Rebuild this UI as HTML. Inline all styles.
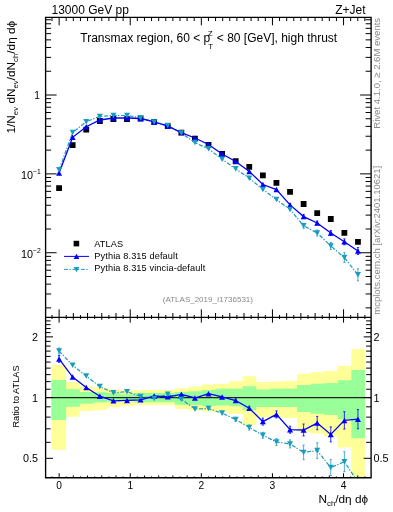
<!DOCTYPE html>
<html><head><meta charset="utf-8"><style>
html,body{margin:0;padding:0;background:#fff;overflow:hidden;}
svg{display:block;will-change:transform;}
text{font-family:"Liberation Sans",sans-serif;}
</style></head><body>
<svg width="393" height="512" viewBox="0 0 393 512">
<rect width="393" height="512" fill="#fff"/>
<path d="M51.30,365.00H66.18V381.90H79.76V386.40H93.34V387.60H106.92V389.40H120.50V390.50H134.08V390.00H147.66V390.00H161.24V390.00H174.82V388.20H188.40V386.40H201.98V384.50H215.56V383.80H229.14V381.30H242.72V376.30H256.30V381.90H269.88V381.50H283.46V381.00H297.04V373.75H310.62V372.25H324.20V371.10H337.78V366.10H351.36V349.00H364.90V477.75H351.36V447.60H337.78V436.40H324.20V433.75H310.62V432.00H297.04V418.10H283.46V417.50H269.88V417.20H256.30V425.30H242.72V413.75H229.14V412.50H215.56V411.50H201.98V410.20H188.40V409.00H174.82V405.30H161.24V405.30H147.66V405.30H134.08V405.90H120.50V407.20H106.92V409.90H93.34V411.00H79.76V416.70H66.18V449.70H51.30Z" fill="#ffff99"/>
<path d="M51.30,380.00H66.18V389.20H79.76V391.90H93.34V392.20H106.92V393.10H120.50V394.30H134.08V393.10H147.66V393.10H161.24V393.10H174.82V391.90H188.40V391.30H201.98V390.00H215.56V388.80H229.14V388.80H242.72V386.30H256.30V389.40H269.88V388.80H283.46V388.50H297.04V385.00H310.62V383.75H324.20V383.00H337.78V380.25H351.36V369.90H364.90V438.25H351.36V418.90H337.78V415.00H324.20V413.75H310.62V411.90H297.04V406.90H283.46V406.90H269.88V406.90H256.30V410.30H242.72V406.25H229.14V405.60H215.56V405.90H201.98V405.30H188.40V404.70H174.82V402.30H161.24V402.30H147.66V402.30H134.08V401.00H120.50V401.80H106.92V402.50H93.34V403.70H79.76V406.80H66.18V419.90H51.30Z" fill="#99ff99"/>
<line x1="45.6" y1="397.6" x2="371.1" y2="397.6" stroke="#222" stroke-width="1.1"/>
<path d="M45.6,307.87h5.5M371.1,307.87h-5.5M45.6,293.98h5.5M371.1,293.98h-5.5M45.6,284.13h5.5M371.1,284.13h-5.5M45.6,276.48h5.5M371.1,276.48h-5.5M45.6,270.24h5.5M371.1,270.24h-5.5M45.6,264.96h5.5M371.1,264.96h-5.5M45.6,260.38h5.5M371.1,260.38h-5.5M45.6,256.35h5.5M371.1,256.35h-5.5M45.6,252.74h11M371.1,252.74h-11M45.6,229.00h5.5M371.1,229.00h-5.5M45.6,215.11h5.5M371.1,215.11h-5.5M45.6,205.26h5.5M371.1,205.26h-5.5M45.6,197.61h5.5M371.1,197.61h-5.5M45.6,191.37h5.5M371.1,191.37h-5.5M45.6,186.09h5.5M371.1,186.09h-5.5M45.6,181.51h5.5M371.1,181.51h-5.5M45.6,177.48h5.5M371.1,177.48h-5.5M45.6,173.87h11M371.1,173.87h-11M45.6,150.13h5.5M371.1,150.13h-5.5M45.6,136.24h5.5M371.1,136.24h-5.5M45.6,126.39h5.5M371.1,126.39h-5.5M45.6,118.74h5.5M371.1,118.74h-5.5M45.6,112.50h5.5M371.1,112.50h-5.5M45.6,107.22h5.5M371.1,107.22h-5.5M45.6,102.64h5.5M371.1,102.64h-5.5M45.6,98.61h5.5M371.1,98.61h-5.5M45.6,95.00h11M371.1,95.00h-11M45.6,71.26h5.5M371.1,71.26h-5.5M45.6,57.37h5.5M371.1,57.37h-5.5M45.6,47.52h5.5M371.1,47.52h-5.5M45.6,39.87h5.5M371.1,39.87h-5.5M45.6,33.63h5.5M371.1,33.63h-5.5M45.6,28.35h5.5M371.1,28.35h-5.5M45.6,23.77h5.5M371.1,23.77h-5.5M45.6,19.74h5.5M371.1,19.74h-5.5M45.6,458.31h7.4M371.1,458.31h-7.4M45.6,442.34h5M371.1,442.34h-5M45.6,428.83h5M371.1,428.83h-5M45.6,417.14h5M371.1,417.14h-5M45.6,406.82h5M371.1,406.82h-5M45.6,397.59h7.4M371.1,397.59h-7.4M45.6,389.24h5M371.1,389.24h-5M45.6,381.62h5M371.1,381.62h-5M45.6,374.61h5M371.1,374.61h-5M45.6,368.12h5M371.1,368.12h-5M45.6,362.07h5M371.1,362.07h-5M45.6,356.42h5M371.1,356.42h-5M45.6,351.11h5M371.1,351.11h-5M45.6,346.10h5M371.1,346.10h-5M45.6,341.37h5M371.1,341.37h-5M45.6,336.87h7.4M371.1,336.87h-7.4M45.6,332.60h5M371.1,332.60h-5M45.6,328.52h5M371.1,328.52h-5M45.6,324.63h5M371.1,324.63h-5M45.6,320.90h5M371.1,320.90h-5M52.00,17.3v3.8M52.00,317.3v-2.3M52.00,317.3v1.7M52.00,477.75v-1.3M59.11,17.3v8M59.11,317.3v-8M59.11,317.3v5.3M59.11,477.75v-4.5M66.22,17.3v3.8M66.22,317.3v-2.3M66.22,317.3v1.7M66.22,477.75v-1.3M73.33,17.3v3.8M73.33,317.3v-4.3M73.33,317.3v2.5M73.33,477.75v-2.3M80.44,17.3v3.8M80.44,317.3v-2.3M80.44,317.3v1.7M80.44,477.75v-1.3M87.55,17.3v3.8M87.55,317.3v-4.3M87.55,317.3v2.5M87.55,477.75v-2.3M94.66,17.3v3.8M94.66,317.3v-2.3M94.66,317.3v1.7M94.66,477.75v-1.3M101.78,17.3v3.8M101.78,317.3v-4.3M101.78,317.3v2.5M101.78,477.75v-2.3M108.89,17.3v3.8M108.89,317.3v-2.3M108.89,317.3v1.7M108.89,477.75v-1.3M116.00,17.3v3.8M116.00,317.3v-4.3M116.00,317.3v2.5M116.00,477.75v-2.3M123.11,17.3v3.8M123.11,317.3v-2.3M123.11,317.3v1.7M123.11,477.75v-1.3M130.22,17.3v8M130.22,317.3v-8M130.22,317.3v5.3M130.22,477.75v-4.5M137.33,17.3v3.8M137.33,317.3v-2.3M137.33,317.3v1.7M137.33,477.75v-1.3M144.44,17.3v3.8M144.44,317.3v-4.3M144.44,317.3v2.5M144.44,477.75v-2.3M151.55,17.3v3.8M151.55,317.3v-2.3M151.55,317.3v1.7M151.55,477.75v-1.3M158.66,17.3v3.8M158.66,317.3v-4.3M158.66,317.3v2.5M158.66,477.75v-2.3M165.77,17.3v3.8M165.77,317.3v-2.3M165.77,317.3v1.7M165.77,477.75v-1.3M172.89,17.3v3.8M172.89,317.3v-4.3M172.89,317.3v2.5M172.89,477.75v-2.3M180.00,17.3v3.8M180.00,317.3v-2.3M180.00,317.3v1.7M180.00,477.75v-1.3M187.11,17.3v3.8M187.11,317.3v-4.3M187.11,317.3v2.5M187.11,477.75v-2.3M194.22,17.3v3.8M194.22,317.3v-2.3M194.22,317.3v1.7M194.22,477.75v-1.3M201.33,17.3v8M201.33,317.3v-8M201.33,317.3v5.3M201.33,477.75v-4.5M208.44,17.3v3.8M208.44,317.3v-2.3M208.44,317.3v1.7M208.44,477.75v-1.3M215.55,17.3v3.8M215.55,317.3v-4.3M215.55,317.3v2.5M215.55,477.75v-2.3M222.66,17.3v3.8M222.66,317.3v-2.3M222.66,317.3v1.7M222.66,477.75v-1.3M229.77,17.3v3.8M229.77,317.3v-4.3M229.77,317.3v2.5M229.77,477.75v-2.3M236.88,17.3v3.8M236.88,317.3v-2.3M236.88,317.3v1.7M236.88,477.75v-1.3M244.00,17.3v3.8M244.00,317.3v-4.3M244.00,317.3v2.5M244.00,477.75v-2.3M251.11,17.3v3.8M251.11,317.3v-2.3M251.11,317.3v1.7M251.11,477.75v-1.3M258.22,17.3v3.8M258.22,317.3v-4.3M258.22,317.3v2.5M258.22,477.75v-2.3M265.33,17.3v3.8M265.33,317.3v-2.3M265.33,317.3v1.7M265.33,477.75v-1.3M272.44,17.3v8M272.44,317.3v-8M272.44,317.3v5.3M272.44,477.75v-4.5M279.55,17.3v3.8M279.55,317.3v-2.3M279.55,317.3v1.7M279.55,477.75v-1.3M286.66,17.3v3.8M286.66,317.3v-4.3M286.66,317.3v2.5M286.66,477.75v-2.3M293.77,17.3v3.8M293.77,317.3v-2.3M293.77,317.3v1.7M293.77,477.75v-1.3M300.88,17.3v3.8M300.88,317.3v-4.3M300.88,317.3v2.5M300.88,477.75v-2.3M308.00,17.3v3.8M308.00,317.3v-2.3M308.00,317.3v1.7M308.00,477.75v-1.3M315.11,17.3v3.8M315.11,317.3v-4.3M315.11,317.3v2.5M315.11,477.75v-2.3M322.22,17.3v3.8M322.22,317.3v-2.3M322.22,317.3v1.7M322.22,477.75v-1.3M329.33,17.3v3.8M329.33,317.3v-4.3M329.33,317.3v2.5M329.33,477.75v-2.3M336.44,17.3v3.8M336.44,317.3v-2.3M336.44,317.3v1.7M336.44,477.75v-1.3M343.55,17.3v8M343.55,317.3v-8M343.55,317.3v5.3M343.55,477.75v-4.5M350.66,17.3v3.8M350.66,317.3v-2.3M350.66,317.3v1.7M350.66,477.75v-1.3M357.77,17.3v3.8M357.77,317.3v-4.3M357.77,317.3v2.5M357.77,477.75v-2.3M364.88,17.3v3.8M364.88,317.3v-2.3M364.88,317.3v1.7M364.88,477.75v-1.3" stroke="#000" stroke-width="1" fill="none"/>
<path d="M45.6,17.3H371.1V477.75H45.6Z M45.6,317.3H371.1" fill="none" stroke="#000" stroke-width="1.35"/>
<defs><clipPath id="cu"><rect x="45.6" y="17.3" width="325.5" height="300.0"/></clipPath><clipPath id="cr"><rect x="45.6" y="317.3" width="325.5" height="160.45"/></clipPath></defs>
<g clip-path="url(#cu)">
<path d="M56.18,185.20h5.8v5.8h-5.8zM69.76,142.20h5.8v5.8h-5.8zM83.35,126.80h5.8v5.8h-5.8zM96.94,118.10h5.8v5.8h-5.8zM110.52,116.10h5.8v5.8h-5.8zM124.11,116.30h5.8v5.8h-5.8zM137.69,115.60h5.8v5.8h-5.8zM151.28,119.00h5.8v5.8h-5.8zM164.86,123.30h5.8v5.8h-5.8zM178.45,129.70h5.8v5.8h-5.8zM192.03,135.70h5.8v5.8h-5.8zM205.61,141.90h5.8v5.8h-5.8zM219.20,151.00h5.8v5.8h-5.8zM232.78,158.20h5.8v5.8h-5.8zM246.37,163.90h5.8v5.8h-5.8zM259.96,172.50h5.8v5.8h-5.8zM273.54,180.00h5.8v5.8h-5.8zM287.13,189.00h5.8v5.8h-5.8zM300.71,201.10h5.8v5.8h-5.8zM314.30,210.20h5.8v5.8h-5.8zM327.88,216.10h5.8v5.8h-5.8zM341.47,229.90h5.8v5.8h-5.8zM355.05,238.90h5.8v5.8h-5.8z" fill="#000"/>
<polyline points="59.08,169.85 72.66,132.50 86.25,121.70 99.84,116.40 113.42,115.50 127.01,115.50 140.59,118.00 154.18,121.90 167.76,125.50 181.35,133.00 194.93,142.60 208.51,148.80 222.10,159.30 235.69,168.80 249.27,178.20 262.86,189.50 276.44,199.60 290.03,209.50 303.61,225.80 317.19,233.00 330.78,246.00 344.37,257.60 357.95,274.80" fill="none" stroke="#1b9bc0" stroke-width="1.2" stroke-dasharray="4,1.4,1.35,1.7"/>
<polyline points="59.08,173.10 72.66,137.30 86.25,126.70 99.84,120.00 113.42,118.00 127.01,118.00 140.59,118.50 154.18,121.90 167.76,126.20 181.35,132.60 194.93,138.00 208.51,144.50 222.10,154.00 235.69,161.50 249.27,171.40 262.86,184.50 276.44,189.60 290.03,204.90 303.61,216.60 317.19,223.00 330.78,233.00 344.37,241.80 357.95,251.00" fill="none" stroke="#0000ff" stroke-width="1.3"/>
<path d="M290.03,203.40V206.40M288.93,203.40h2.2M288.93,206.40h2.2M303.61,214.60V218.60M302.51,214.60h2.2M302.51,218.60h2.2M317.19,221.00V225.00M316.09,221.00h2.2M316.09,225.00h2.2M330.78,230.50V235.50M329.68,230.50h2.2M329.68,235.50h2.2M344.37,238.80V244.80M343.26,238.80h2.2M343.26,244.80h2.2M357.95,247.50V254.50M356.85,247.50h2.2M356.85,254.50h2.2" stroke="#0000ff" stroke-width="0.8" fill="none"/>
<path d="M56.08,175.86L62.08,175.86L59.08,170.34ZM69.66,140.06L75.66,140.06L72.66,134.54ZM83.25,129.46L89.25,129.46L86.25,123.94ZM96.84,122.76L102.84,122.76L99.84,117.24ZM110.42,120.76L116.42,120.76L113.42,115.24ZM124.01,120.76L130.00,120.76L127.01,115.24ZM137.59,121.26L143.59,121.26L140.59,115.74ZM151.18,124.66L157.18,124.66L154.18,119.14ZM164.76,128.96L170.76,128.96L167.76,123.44ZM178.35,135.36L184.35,135.36L181.35,129.84ZM191.93,140.76L197.93,140.76L194.93,135.24ZM205.51,147.26L211.51,147.26L208.51,141.74ZM219.10,156.76L225.10,156.76L222.10,151.24ZM232.69,164.26L238.69,164.26L235.69,158.74ZM246.27,174.16L252.27,174.16L249.27,168.64ZM259.86,187.26L265.86,187.26L262.86,181.74ZM273.44,192.36L279.44,192.36L276.44,186.84ZM287.03,207.66L293.03,207.66L290.03,202.14ZM300.61,219.36L306.61,219.36L303.61,213.84ZM314.19,225.76L320.19,225.76L317.19,220.24ZM327.78,235.76L333.78,235.76L330.78,230.24ZM341.37,244.56L347.37,244.56L344.37,239.04ZM354.95,253.76L360.95,253.76L357.95,248.24Z" fill="#0000ff"/>
<path d="M303.61,223.30V228.30M302.51,223.30h2.2M302.51,228.30h2.2M317.19,230.00V236.00M316.09,230.00h2.2M316.09,236.00h2.2M330.78,242.50V249.50M329.68,242.50h2.2M329.68,249.50h2.2M344.37,252.60V262.60M343.26,252.60h2.2M343.26,262.60h2.2M357.95,268.80V280.80M356.85,268.80h2.2M356.85,280.80h2.2" stroke="#1b9bc0" stroke-width="0.8" fill="none"/>
<path d="M56.08,167.09L62.08,167.09L59.08,172.61ZM69.66,129.74L75.66,129.74L72.66,135.26ZM83.25,118.94L89.25,118.94L86.25,124.46ZM96.84,113.64L102.84,113.64L99.84,119.16ZM110.42,112.74L116.42,112.74L113.42,118.26ZM124.01,112.74L130.00,112.74L127.01,118.26ZM137.59,115.24L143.59,115.24L140.59,120.76ZM151.18,119.14L157.18,119.14L154.18,124.66ZM164.76,122.74L170.76,122.74L167.76,128.26ZM178.35,130.24L184.35,130.24L181.35,135.76ZM191.93,139.84L197.93,139.84L194.93,145.36ZM205.51,146.04L211.51,146.04L208.51,151.56ZM219.10,156.54L225.10,156.54L222.10,162.06ZM232.69,166.04L238.69,166.04L235.69,171.56ZM246.27,175.44L252.27,175.44L249.27,180.96ZM259.86,186.74L265.86,186.74L262.86,192.26ZM273.44,196.84L279.44,196.84L276.44,202.36ZM287.03,206.74L293.03,206.74L290.03,212.26ZM300.61,223.04L306.61,223.04L303.61,228.56ZM314.19,230.24L320.19,230.24L317.19,235.76ZM327.78,243.24L333.78,243.24L330.78,248.76ZM341.37,254.84L347.37,254.84L344.37,260.36ZM354.95,272.04L360.95,272.04L357.95,277.56Z" fill="#1b9bc0"/>
</g>
<g clip-path="url(#cr)">
<polyline points="59.08,351.00 72.66,365.30 86.25,376.10 99.84,386.60 113.42,392.80 127.01,391.70 140.59,396.40 154.18,398.50 167.76,394.30 181.35,399.20 194.93,409.00 208.51,408.60 222.10,413.10 235.69,419.50 249.27,427.50 262.86,435.30 276.44,441.90 290.03,443.90 303.61,452.40 317.19,450.60 330.78,467.60 344.37,461.70 357.95,482.00" fill="none" stroke="#1b9bc0" stroke-width="1.2" stroke-dasharray="4,1.4,1.35,1.7"/>
<polyline points="59.08,358.90 72.66,377.10 86.25,387.50 99.84,396.20 113.42,400.80 127.01,400.40 140.59,399.80 154.18,396.00 167.76,396.80 181.35,394.30 194.93,398.00 208.51,393.70 222.10,396.90 235.69,400.50 249.27,408.20 262.86,421.60 276.44,414.40 290.03,429.70 303.61,430.00 317.19,423.10 330.78,434.40 344.37,420.40 357.95,419.20" fill="none" stroke="#0000ff" stroke-width="1.3"/>
<path d="M59.08,355.50V362.30M57.98,355.50h2.2M57.98,362.30h2.2M235.69,399.00V402.00M234.59,399.00h2.2M234.59,402.00h2.2M249.27,406.20V410.20M248.17,406.20h2.2M248.17,410.20h2.2M262.86,418.10V425.10M261.75,418.10h2.2M261.75,425.10h2.2M276.44,410.90V417.90M275.34,410.90h2.2M275.34,417.90h2.2M290.03,426.20V433.20M288.93,426.20h2.2M288.93,433.20h2.2M303.61,424.00V436.00M302.51,424.00h2.2M302.51,436.00h2.2M317.19,416.40V429.80M316.09,416.40h2.2M316.09,429.80h2.2M330.78,426.90V441.90M329.68,426.90h2.2M329.68,441.90h2.2M344.37,411.70V429.10M343.26,411.70h2.2M343.26,429.10h2.2M357.95,409.60V428.80M356.85,409.60h2.2M356.85,428.80h2.2" stroke="#0000ff" stroke-width="0.8" fill="none"/>
<path d="M56.08,361.66L62.08,361.66L59.08,356.14ZM69.66,379.86L75.66,379.86L72.66,374.34ZM83.25,390.26L89.25,390.26L86.25,384.74ZM96.84,398.96L102.84,398.96L99.84,393.44ZM110.42,403.56L116.42,403.56L113.42,398.04ZM124.01,403.16L130.00,403.16L127.01,397.64ZM137.59,402.56L143.59,402.56L140.59,397.04ZM151.18,398.76L157.18,398.76L154.18,393.24ZM164.76,399.56L170.76,399.56L167.76,394.04ZM178.35,397.06L184.35,397.06L181.35,391.54ZM191.93,400.76L197.93,400.76L194.93,395.24ZM205.51,396.46L211.51,396.46L208.51,390.94ZM219.10,399.66L225.10,399.66L222.10,394.14ZM232.69,403.26L238.69,403.26L235.69,397.74ZM246.27,410.96L252.27,410.96L249.27,405.44ZM259.86,424.36L265.86,424.36L262.86,418.84ZM273.44,417.16L279.44,417.16L276.44,411.64ZM287.03,432.46L293.03,432.46L290.03,426.94ZM300.61,432.76L306.61,432.76L303.61,427.24ZM314.19,425.86L320.19,425.86L317.19,420.34ZM327.78,437.16L333.78,437.16L330.78,431.64ZM341.37,423.16L347.37,423.16L344.37,417.64ZM354.95,421.96L360.95,421.96L357.95,416.44Z" fill="#0000ff"/>
<path d="M59.08,348.00V354.00M57.98,348.00h2.2M57.98,354.00h2.2M222.10,411.60V414.60M221.00,411.60h2.2M221.00,414.60h2.2M235.69,417.50V421.50M234.59,417.50h2.2M234.59,421.50h2.2M249.27,425.00V430.00M248.17,425.00h2.2M248.17,430.00h2.2M262.86,432.30V438.30M261.75,432.30h2.2M261.75,438.30h2.2M276.44,438.40V445.40M275.34,438.40h2.2M275.34,445.40h2.2M290.03,439.90V447.90M288.93,439.90h2.2M288.93,447.90h2.2M303.61,445.10V459.70M302.51,445.10h2.2M302.51,459.70h2.2M317.19,442.80V458.40M316.09,442.80h2.2M316.09,458.40h2.2M330.78,459.60V475.60M329.68,459.60h2.2M329.68,475.60h2.2M344.37,451.70V471.70M343.26,451.70h2.2M343.26,471.70h2.2" stroke="#1b9bc0" stroke-width="0.8" fill="none"/>
<path d="M56.08,348.24L62.08,348.24L59.08,353.76ZM69.66,362.54L75.66,362.54L72.66,368.06ZM83.25,373.34L89.25,373.34L86.25,378.86ZM96.84,383.84L102.84,383.84L99.84,389.36ZM110.42,390.04L116.42,390.04L113.42,395.56ZM124.01,388.94L130.00,388.94L127.01,394.46ZM137.59,393.64L143.59,393.64L140.59,399.16ZM151.18,395.74L157.18,395.74L154.18,401.26ZM164.76,391.54L170.76,391.54L167.76,397.06ZM178.35,396.44L184.35,396.44L181.35,401.96ZM191.93,406.24L197.93,406.24L194.93,411.76ZM205.51,405.84L211.51,405.84L208.51,411.36ZM219.10,410.34L225.10,410.34L222.10,415.86ZM232.69,416.74L238.69,416.74L235.69,422.26ZM246.27,424.74L252.27,424.74L249.27,430.26ZM259.86,432.54L265.86,432.54L262.86,438.06ZM273.44,439.14L279.44,439.14L276.44,444.66ZM287.03,441.14L293.03,441.14L290.03,446.66ZM300.61,449.64L306.61,449.64L303.61,455.16ZM314.19,447.84L320.19,447.84L317.19,453.36ZM327.78,464.84L333.78,464.84L330.78,470.36ZM341.37,458.94L347.37,458.94L344.37,464.46ZM354.95,479.24L360.95,479.24L357.95,484.76Z" fill="#1b9bc0"/>
</g>
<text x="51.5" y="13.7" font-size="12">13000 GeV pp</text>
<text x="365.5" y="13.7" font-size="12" text-anchor="end">Z+Jet</text>
<text x="80.3" y="41.8" font-size="12">Transmax region, 60 &lt; p</text>
<text x="207.8" y="35.6" font-size="8">Z</text>
<text x="208.2" y="48.7" font-size="8">T</text>
<text x="216.8" y="41.8" font-size="12">&lt; 80 [GeV], high thrust</text>
<text x="39.8" y="98.9" font-size="10.2" text-anchor="end">1</text>
<text x="33.1" y="179.47" font-size="10.8" text-anchor="end">10</text>
<text x="33.0" y="174.07" font-size="6.8">−1</text>
<text x="33.1" y="258.34" font-size="10.8" text-anchor="end">10</text>
<text x="33.0" y="252.94" font-size="6.8">−2</text>
<text x="59.11" y="489.2" font-size="10.2" text-anchor="middle">0</text>
<text x="130.22" y="489.2" font-size="10.2" text-anchor="middle">1</text>
<text x="201.33" y="489.2" font-size="10.2" text-anchor="middle">2</text>
<text x="272.44" y="489.2" font-size="10.2" text-anchor="middle">3</text>
<text x="343.55" y="489.2" font-size="10.2" text-anchor="middle">4</text>
<text x="38.0" y="340.87" font-size="10.8" text-anchor="end">2</text>
<text x="373.6" y="340.87" font-size="10.8">2</text>
<text x="38.0" y="401.59" font-size="10.8" text-anchor="end">1</text>
<text x="373.6" y="401.59" font-size="10.8">1</text>
<text x="38.0" y="462.31" font-size="10.8" text-anchor="end">0.5</text>
<text x="373.6" y="462.31" font-size="10.8">0.5</text>
<rect x="73.6" y="240.8" width="5.6" height="5.6" fill="#000"/>
<line x1="64" y1="256.4" x2="89" y2="256.4" stroke="#0000ff" stroke-width="1.0"/>
<path d="M73.65,259.02L79.35,259.02L76.50,253.78Z" fill="#0000ff"/>
<line x1="64" y1="269.4" x2="89" y2="269.4" stroke="#1b9bc0" stroke-width="1.0" stroke-dasharray="4,1.4,1.35,1.7"/>
<path d="M73.65,266.98L79.35,266.98L76.50,272.22Z" fill="#1b9bc0"/>
<text x="94.3" y="246.7" font-size="9.2" letter-spacing="0.12">ATLAS</text>
<text x="94.3" y="259.1" font-size="9.2" letter-spacing="0.12">Pythia 8.315 default</text>
<text x="94.3" y="271.4" font-size="9.2" letter-spacing="0.12">Pythia 8.315 vincia-default</text>
<text x="162.8" y="302.2" font-size="8" fill="#888">(ATLAS_2019_I1736531)</text>
<text transform="translate(15,133.5) rotate(-90)" font-size="11.8">1/N<tspan font-size="7.8" dy="2.6">ev</tspan><tspan dy="-2.6"> dN</tspan><tspan font-size="7.8" dy="2.6">ev</tspan><tspan dy="-2.6">/dN</tspan><tspan font-size="7.8" dy="2.6">ch</tspan><tspan dy="-2.6">/dη dϕ</tspan></text>
<text transform="translate(18.6,427.6) rotate(-90)" font-size="9.2">Ratio to ATLAS</text>
<text x="318.5" y="503" font-size="11.8">N<tspan font-size="7.8" dy="2.6">ch</tspan><tspan dy="-2.6">/dη dϕ</tspan></text>
<text transform="translate(380.4,128.7) rotate(-90)" font-size="9.55" fill="#888">Rivet 4.1.0, ≥ 2.6M events</text>
<text transform="translate(380.3,314.7) rotate(-90)" font-size="9.5" fill="#888">mcplots.cern.ch [arXiv:2401.10621]</text>
</svg></body></html>
